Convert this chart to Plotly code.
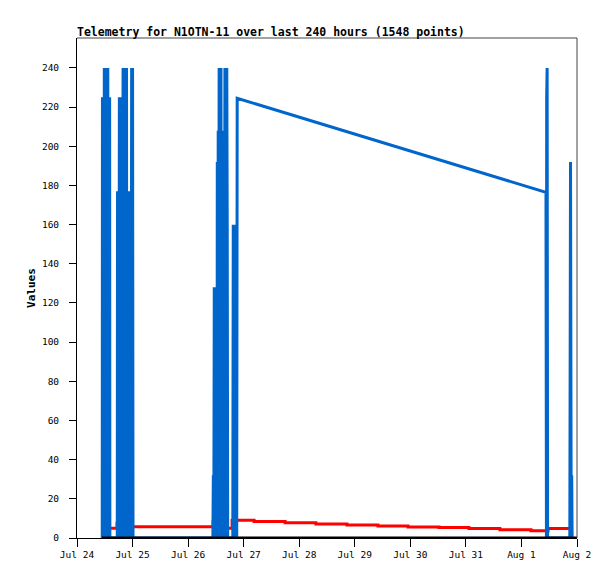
import pandas as pd
import plotly.graph_objects as go

START = pd.Timestamp("2023-07-24 00:00")

# hodiny od 24. 7. 00:00 a hodnoty
blue_hours = [
    10.9, 11.0, 11.2, 11.4, 11.6, 11.8, 12.0, 12.2, 12.4, 12.6, 12.8, 13.0, 13.2, 13.3,
    13.5, 13.7, 13.9, 14.1, 14.2,
    17.4, 17.5, 17.7, 17.9, 18.1, 18.3, 18.5, 18.7, 18.9, 19.1, 19.3, 19.5, 19.7, 19.9,
    20.1, 20.3, 20.5, 20.7, 20.9, 21.1, 21.3, 21.4, 21.5,
    22.1, 22.2, 22.4, 22.6, 22.8, 23.0, 23.2, 23.4, 23.6, 23.8, 24.0, 24.2,
    58.7, 58.9, 59.1, 59.3, 59.5, 59.7, 59.9,
    60.5, 60.6, 60.8, 61.0, 61.2, 61.4, 61.6, 61.8, 62.0, 62.2, 62.4, 62.6, 62.8, 63.0,
    63.2, 63.4, 63.6, 63.9, 64.1, 64.3, 64.5, 64.7, 64.9, 65.1,
    67.3, 67.5, 67.7, 67.9, 68.1, 68.4, 68.6, 68.8, 69.0, 69.2,
    202.6, 202.8, 202.9, 203.1, 203.3,
    212.9, 213.2, 213.5, 213.7, 213.9,
]
blue_values = [
    0, 225, 0, 225, 0, 240, 0, 240, 0, 240, 0, 240, 0, 240,
    0, 225, 0, 225, 0,
    0, 177, 0, 177, 0, 225, 0, 225, 0, 145, 0, 145, 0, 240,
    0, 240, 0, 240, 0, 240, 0, 240, 0,
    0, 177, 0, 177, 0, 177, 48, 0, 240, 0, 240, 0,
    0, 32, 0, 128, 0, 128, 0,
    0, 192, 0, 208, 0, 240, 0, 240, 0, 240, 0, 208, 0, 208,
    0, 208, 0, 240, 0, 240, 0, 240, 160, 0,
    0, 160, 0, 160, 0, 128, 0, 128, 0, 224.5,
    176.5, 0, 225, 240, 0,
    0, 192, 0, 32, 0,
]

red_hours = [
    14.3, 17.3, 21.6, 58.8, 60.5, 67.0, 76.5, 89.9, 103.2, 116.6, 130.0, 143.0,
    156.4, 169.3, 182.7, 196.1, 203.5, 213.0,
]
red_values = [
    5.0, 7.5, 5.8, 8.3, 5.0, 9.0, 8.4, 7.8, 7.2, 6.7, 6.1, 5.6,
    5.3, 4.8, 4.2, 3.7, 4.8, 4.8,
]

black_hours = [10.8, 216.0]
black_values = [0, 0]

y_ticks = list(range(0, 241, 20))


def to_time(hours):
    return [START + pd.Timedelta(hours=h) for h in hours]


fig = go.Figure()
fig.add_trace(go.Scatter(
    x=to_time(red_hours), y=red_values, mode="lines",
    line=dict(color="#ff0000", width=3, shape="hv", simplify=False),
))
fig.add_trace(go.Scatter(
    x=to_time(blue_hours), y=blue_values, mode="lines",
    line=dict(color="#0066cc", width=3, simplify=False),
))
fig.add_trace(go.Scatter(
    x=to_time(black_hours), y=black_values, mode="lines",
    line=dict(color="#000000", width=3),
))

# stranka ma 8px okraj body, proto jsou okraje posunute
mono = "DejaVu Sans Mono"
fig.update_layout(
    width=615, height=579,
    margin=dict(l=69, r=46, t=30, b=49),
    paper_bgcolor="white", plot_bgcolor="white",
    showlegend=False,
    font=dict(family=mono, size=9.5, color="black"),
    title=dict(
        text="<b>Telemetry for N1OTN-11 over last 240 hours (1548 points)</b>",
        xref="paper", x=0, xanchor="left", y=1 - 27.5 / 579, yanchor="bottom",
        font=dict(family=mono, size=11.5, color="black"),
    ),
    xaxis=dict(
        range=[START, START + pd.Timedelta(hours=216)],
        tick0=START, dtick=86400000, tickformat="%b %-d",
        ticks="outside", ticklen=8, tickcolor="black", tickwidth=1,
        showgrid=False, zeroline=False, automargin=False,
        showline=True, linecolor="black", linewidth=1,
    ),
    yaxis=dict(
        range=[0, 255.3], tickvals=y_ticks,
        ticks="outside", ticklen=7, tickcolor="black", tickwidth=1,
        ticklabelstandoff=8,
        showgrid=False, zeroline=False, automargin=False,
        showline=True, linecolor="black", linewidth=1,
        title=dict(text="<b>Values</b>", font=dict(family=mono, size=11), standoff=4),
    ),
    shapes=[
        dict(type="line", xref="paper", yref="paper", x0=0, x1=1, y0=1, y1=1,
             line=dict(color="#444444", width=1)),
        dict(type="line", xref="paper", yref="paper", x0=1, x1=1, y0=0, y1=1,
             line=dict(color="#444444", width=1)),
    ],
)

fig.write_html("out.html")
